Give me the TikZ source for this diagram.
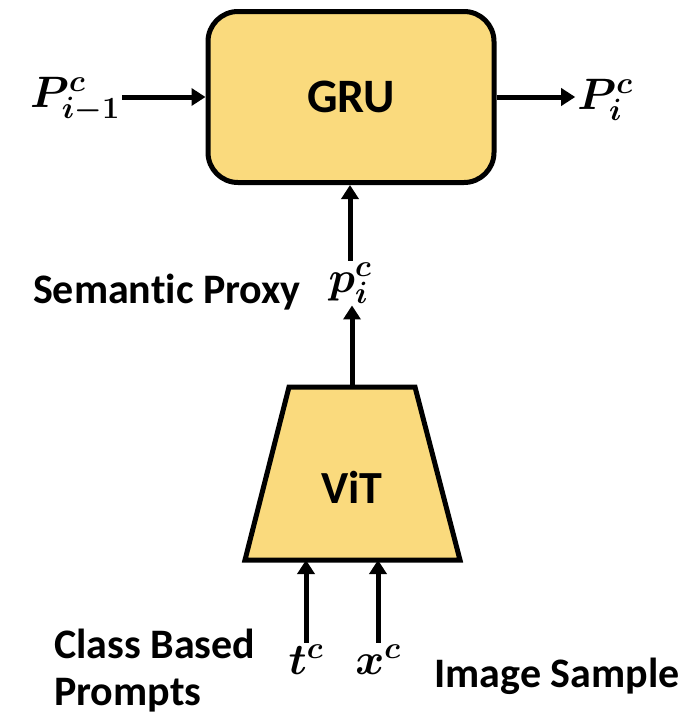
\RequirePackage{fix-cm}
\documentclass[tikz,border=0pt]{standalone}
\usepackage{fontspec}
\setmainfont{Carlito}[Ligatures=NoCommon]
\usepackage{bm}
\usetikzlibrary{arrows.meta,shapes.geometric,positioning}
\definecolor{boxyellow}{RGB}{250,218,125}
\tikzset{
  blk/.style={draw,line width=5pt,fill=boxyellow},
  arr/.style={line width=5pt,-{Triangle[length=14pt,width=17pt]}},
  sym/.style={font=\fontsize{44}{50}\selectfont,inner sep=2pt},
  txt/.style={font=\fontsize{42}{46}\selectfont\bfseries,inner sep=0pt},
}
\begin{document}
\begin{tikzpicture}[x=1pt,y=-1pt]
\useasboundingbox (0,0) rectangle (694,718);
% GRU block
\node[blk,rounded corners=30pt,minimum width=286pt,minimum height=171pt,
  font=\fontsize{48}{52}\selectfont\bfseries] (gru) at (351,97) {GRU};
% ViT encoder (trapezoid, wide side at the bottom)
\draw[blk] (289,387) -- (415,387) -- (460,560) -- (245,560) -- cycle;
\coordinate (vittop) at (352,387);
\coordinate (vitbot) at (352,560);
\node[txt,font=\fontsize{46}{50}\selectfont\bfseries] (vittxt) at (352,487) {ViT};
% symbols and captions
\node[sym] (pin) at (75,100) {$\bm{P^c_{i-1}}$};
\node[sym] (pout) at (605,100) {$\bm{P^c_i}$};
\node[sym] (proxy) at (350,283) {$\bm{p^c_i}$};
\node[txt,anchor=east] (semtxt) at (301,292) {Semantic Proxy};
\node[txt,align=left,anchor=west,font=\fontsize{42}{47}\selectfont\bfseries] (cbp) at (54,671) {Class Based\\Prompts};
\node[txt] (imgs) at (557,676) {Image Sample};
% connections
\draw[arr] (pin.east |- gru.west) -- (gru.west);
\draw[arr] (gru.east) -- (pout.west |- gru.east);
\draw[arr] (proxy.north) -- (proxy.north |- gru.south);
\draw[arr] (vittop) -- (vittop |- proxy.south);
% two inputs of the ViT
\foreach \n/\x/\lbl in {tc/306/t,xc/378/x}
{
  \node[sym] (\n) at (\x,660) {$\bm{\lbl^c}$};
  \draw[arr] (\n.north) -- (\n.north |- vitbot);
}
\end{tikzpicture}
\end{document}
